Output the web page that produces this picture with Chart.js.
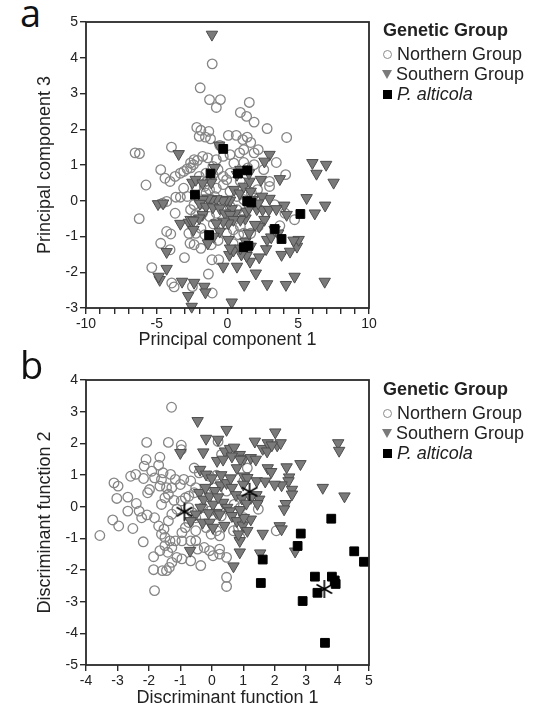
<!DOCTYPE html>
<html lang="en"><head><meta charset="UTF-8">
<title>Genetic Group – PCA and DFA</title>
<script src="https://cdn.jsdelivr.net/npm/chart.js@4.4.1/dist/chart.umd.min.js"></script>
<style>
*{box-sizing:border-box;margin:0;padding:0;}
body{width:545px;height:713px;background:#fff;font-family:Arial,'Liberation Sans',sans-serif;color:#222;position:relative;overflow:hidden;}
canvas{position:absolute;left:0;}
.tag{position:absolute;left:20px;font-size:38px;line-height:1;font-family:'Open Sans',Arial,sans-serif;color:#111;}
.legend{position:absolute;left:382px;font-size:18px;line-height:20px;color:#222;white-space:nowrap;}
.legend .ttl{font-weight:700;margin-bottom:4px;margin-left:1px;}
.legend .it{display:flex;align-items:center;}
.sym{display:inline-block;width:11px;margin-right:4px;}
.sym.circ{width:9px;height:9px;border:1.2px solid #8a8a8a;border-radius:50%;margin-left:1px;margin-right:5px;}
.sym.tri{width:0;height:0;border-left:5.5px solid transparent;border-right:5.5px solid transparent;border-top:9px solid #7a7a7a;}
.sym.sq{width:9px;height:9px;background:#000;margin-left:1px;margin-right:5px;}
</style></head>
<body>
<div class="tag" style="top:-7px;">a</div>
<canvas id="pcaChart" width="545" height="355" style="top:0;"></canvas>
<div class="legend" style="top:20px;">
  <div class="ttl">Genetic Group</div>
  <div class="it"><span class="sym circ"></span>Northern Group</div>
  <div class="it"><span class="sym tri"></span>Southern Group</div>
  <div class="it"><span class="sym sq"></span><i>P. alticola</i></div>
</div>

<div class="tag" style="top:345px;">b</div>
<canvas id="dfaChart" width="545" height="358" style="top:355px;"></canvas>
<div class="legend" style="top:379px;">
  <div class="ttl">Genetic Group</div>
  <div class="it"><span class="sym circ"></span>Northern Group</div>
  <div class="it"><span class="sym tri"></span>Southern Group</div>
  <div class="it"><span class="sym sq"></span><i>P. alticola</i></div>
</div>

<script>
// ── panel a: PCA scores (PC1, PC3) ──────────────────────────────
const pcaNorthern = [
  [-1.08,3.83],[-1.93,3.16],[-1.27,2.83],[-0.50,2.83],[-0.79,2.61],[1.54,2.75],[0.91,2.47],[1.35,2.36],
  [1.88,2.20],[2.80,2.02],[4.18,1.77],[-2.17,2.05],[-1.88,1.97],[-1.32,1.94],[-2.00,1.80],[-1.20,1.73],
  [-1.56,1.78],[0.06,1.83],[0.62,1.83],[1.39,1.78],[1.64,1.63],[1.08,1.71],[-3.96,1.50],[-6.53,1.34],
  [-6.22,1.32],[-5.76,0.44],[-6.24,-0.50],[-4.72,0.87],[-4.42,0.63],[-4.06,0.54],[-3.70,0.68],[-3.33,0.77],
  [-3.09,0.82],[-2.85,0.89],[-2.61,0.92],[-2.41,1.01],[-4.30,-0.02],[-4.59,-0.07],[-3.70,-0.35],[-3.65,0.10],
  [-3.33,0.10],[-2.85,0.12],[-4.30,-0.86],[-4.01,-0.93],[-4.72,-1.19],[-4.06,-1.37],[-3.04,-1.59],[-2.65,-1.19],
  [-5.35,-1.87],[-3.94,-2.30],[-3.77,-2.41],[-2.48,-2.40],[-1.35,-2.05],[-1.08,-2.58],[-1.10,-1.65],[-0.62,-1.65],
  [-1.15,-1.23],[-0.67,-1.11],[-0.06,-0.91],[-0.30,-0.67],[0.79,-0.95],[1.64,-0.91],[2.17,-0.72],[3.70,-0.70],
  [4.74,-0.53],[4.06,-0.35],[3.33,-0.11],[3.45,1.07],[4.11,0.73],[2.56,0.87],[2.97,0.54],[2.97,0.40],
  [2.12,0.31],[1.68,0.23],[1.35,0.20],[2.17,1.43],[1.88,1.34],[1.15,1.43],[0.86,1.34],[0.18,1.29],
  [-0.30,1.24],[-0.79,1.15],[-1.03,0.96],[-1.39,1.20],[-1.76,1.24],[-2.12,1.13],[-2.36,1.15],[-2.61,1.06],
  [1.15,1.07],[1.44,0.92],[1.88,1.01],[0.18,0.77],[-0.30,0.68],[-0.67,0.87],[-1.03,0.73],[-1.52,0.77],
  [-2.00,0.68],[-2.24,0.40],[-1.64,0.40],[-1.27,0.31],[-0.79,0.35],[-0.30,0.45],[-0.06,0.59],[0.18,0.26],
  [0.67,0.12],[1.15,0.03],[1.64,-0.07],[-0.91,0.12],[-1.52,0.21],[-2.00,0.03],[-2.36,-0.11],[-2.61,-0.25],
  [-2.24,-0.39],[-1.76,-0.35],[-1.27,-0.44],[-0.79,-0.35],[-0.30,-0.16],[0.18,-0.16],[0.67,-0.25],[1.15,-0.35],
  [-2.24,-0.91],[-1.88,-0.77],[-2.73,-0.91],[-2.36,-1.23],[-1.88,-1.33],[0.91,-0.72],[1.15,-0.91],[0.42,-0.81],
  [-0.55,1.55],[0.45,1.05],[-1.45,0.55],[0.90,0.55],[-3.10,0.35],[-1.00,-0.65],[0.40,-1.20],[-1.60,-0.95]
];
const pcaSouthern = [
  [-1.10,4.65],[-3.45,1.31],[-4.91,-0.09],[-4.55,-0.07],[-2.48,0.51],[-2.24,0.59],[-1.15,0.51],[-0.59,1.55],
  [2.97,1.29],[2.61,1.10],[3.70,0.61],[6.00,1.06],[6.97,1.01],[6.29,0.76],[7.50,0.51],[5.59,0.08],
  [6.90,-0.13],[6.17,-0.35],[4.01,-0.13],[4.18,-0.39],[2.97,0.06],[-3.33,-0.64],[-2.73,-0.61],[-2.41,-0.81],
  [-4.30,-1.43],[-4.30,-1.90],[-4.79,-2.21],[-4.87,-2.12],[-3.21,-2.26],[-2.36,-2.29],[-1.64,-2.40],[-1.56,-2.56],
  [-2.78,-2.66],[-2.53,-2.96],[0.30,-2.84],[1.18,-2.35],[2.80,-2.33],[4.13,-2.35],[4.74,-2.12],[6.87,-2.26],
  [2.00,-2.03],[-0.30,-1.84],[0.67,-1.84],[1.59,-1.70],[2.24,-1.58],[1.35,-1.54],[0.98,-1.50],[0.13,-1.51],
  [0.42,-1.39],[2.73,-1.35],[3.82,-1.51],[4.42,-1.42],[4.91,-1.28],[5.03,-1.09],[4.67,-1.11],[2.80,-1.09],
  [3.09,-1.02],[3.58,-0.91],[3.33,-0.81],[2.61,-0.53],[2.24,-0.72],[1.95,-0.67],[2.07,-0.23],[2.48,-0.25],
  [2.92,-0.25],[3.45,-0.23],[1.27,-0.49],[1.35,-0.30],[0.91,-0.53],[0.55,-0.35],[0.30,-0.23],[0.18,0.01],
  [-0.06,0.03],[-0.35,0.01],[-0.79,0.05],[-1.15,0.03],[-1.39,0.07],[-1.76,0.03],[-1.95,-0.08],[-1.52,-0.16],
  [-1.03,-0.18],[-0.55,-0.21],[-0.18,-0.35],[0.18,-0.39],[0.42,-0.53],[0.06,-0.63],[-0.30,-0.58],[-0.79,-0.63],
  [-0.55,-0.86],[-0.98,-1.00],[-1.39,-1.19],[0.06,-1.09],[0.18,-1.33],[0.91,-1.33],[1.27,-1.14],[1.52,-0.91],
  [1.64,-1.28],[-1.76,-0.39],[-2.00,-0.49],[-2.61,-0.53],[-2.41,-0.55],[-1.76,0.49],[-0.91,0.92],[0.67,0.73],
  [0.91,0.87],[0.47,0.31],[0.86,0.21],[1.15,0.40],[1.56,0.54],[1.52,0.77],[1.64,0.26],[2.36,0.59],
  [2.44,0.12],[2.17,-0.07],[1.76,0.03],[1.52,-0.21]
];
const pcaAlticola = [
  [-0.30,1.45],[-1.20,0.76],[0.74,0.76],[1.39,0.85],[-2.30,0.17],[1.39,-0.01],[1.68,-0.05],
  [5.15,-0.37],[3.33,-0.79],[3.82,-1.07],[-1.30,-0.96],[1.15,-1.30],[1.48,-1.26]
];

// ── panel b: discriminant function scores (DF1, DF2) ────────────
const dfaNorthern = [
  [-1.28,3.14],[-3.56,-0.91],[-2.07,2.03],[-1.38,2.03],[-0.97,1.94],[-0.97,1.80],[0.20,2.06],[0.31,1.65],
  [-2.09,1.49],[-2.15,1.28],[-1.65,1.56],[-1.91,1.12],[-1.69,1.31],[-1.55,1.07],[-1.31,1.02],[-2.17,0.89],
  [-1.82,0.91],[-1.60,0.86],[-1.65,0.65],[-1.44,0.60],[-3.11,0.75],[-2.98,0.65],[-2.58,0.96],[-2.42,1.02],
  [-3.02,0.26],[-2.67,0.30],[-3.15,-0.42],[-2.96,-0.61],[-2.67,-0.14],[-2.51,-0.69],[-2.31,-0.14],[-2.23,-0.35],
  [-2.06,-0.26],[-1.98,0.54],[-2.04,0.44],[-2.18,-1.11],[-1.85,-1.58],[-1.85,-1.99],[-1.82,-2.65],[-1.57,-2.02],
  [-1.44,-2.02],[-1.35,-1.92],[0.47,-2.23],[0.47,-2.52],[-0.35,-1.86],[-0.67,-1.71],[-0.95,-1.65],[-1.11,-1.60],
  [-1.27,-1.76],[-1.40,-1.44],[-1.27,-1.29],[-1.65,-1.39],[-1.49,-0.97],[-1.33,-1.08],[-1.16,-1.08],[-1.49,-1.23],
  [-1.82,-0.35],[-1.69,-0.61],[-1.60,-0.87],[-1.52,-0.71],[-1.38,-0.45],[-1.27,-0.24],[-1.11,-0.08],[-0.97,0.18],
  [-0.84,0.28],[-0.73,0.33],[-0.56,0.44],[-0.51,0.60],[-0.67,0.81],[-0.89,0.86],[-1.00,0.70],[-1.16,0.86],
  [-1.27,0.60],[-1.38,0.39],[-1.49,0.28],[-1.60,0.07],[-0.56,1.22],[-0.40,1.07],[-0.07,0.96],[0.15,0.99],
  [-0.73,-0.03],[-0.62,-0.19],[-0.51,-0.35],[-0.73,-0.50],[-0.84,-0.66],[-0.95,-0.82],[-0.95,-1.08],[-0.67,-1.08],
  [-0.51,-1.08],[-0.45,-1.34],[-0.24,-1.29],[-0.07,-1.39],[0.04,-1.55],[0.25,-1.34],[0.25,-1.50],[0.47,-1.60],
  [0.25,-0.92],[0.15,-0.76],[-0.02,-0.87],[-0.18,-0.66],[-0.51,-0.76],[-0.29,-0.03],[-0.07,-0.14],[0.09,0.28],
  [0.04,0.60],[0.47,0.49],[0.71,0.07],[0.91,-0.03],[1.02,-0.35],[0.85,-0.66],[0.69,-0.76],[1.13,1.22],
  [1.02,0.81],[1.48,-0.08],[2.05,-0.76],[0.89,-0.97],[-2.40,0.10],[-1.20,0.20],[-0.30,0.40],[0.30,-0.30]
];
const dfaSouthern = [
  [-0.45,2.71],[0.47,2.43],[-0.18,2.15],[0.20,2.12],[0.42,1.75],[0.58,1.83],[0.71,1.87],[0.89,1.64],
  [1.02,1.52],[1.24,1.54],[1.37,2.06],[1.62,1.83],[1.78,2.01],[2.02,2.35],[2.08,1.94],[2.19,2.01],
  [1.76,1.75],[1.91,1.94],[-1.00,1.70],[-0.27,1.72],[0.17,1.45],[0.36,1.49],[0.64,1.59],[0.91,1.49],
  [1.40,1.49],[2.82,1.35],[2.38,1.25],[1.78,1.22],[1.89,1.10],[0.80,1.22],[1.02,0.96],[1.13,0.91],
  [1.43,0.81],[2.46,0.93],[2.44,0.81],[-0.37,1.17],[-0.18,1.02],[4.02,2.01],[4.05,1.77],[3.53,0.60],
  [4.22,0.33],[2.22,0.68],[2.55,0.54],[2.55,0.39],[2.35,0.09],[2.30,-0.08],[2.16,-0.61],[2.22,-0.71],
  [0.29,0.68],[0.47,0.75],[0.64,0.60],[0.77,0.37],[0.96,0.26],[1.42,0.37],[1.51,0.23],[1.45,0.09],
  [1.24,0.28],[-0.40,0.44],[-0.26,0.23],[-0.07,0.33],[0.04,0.07],[0.15,-0.19],[0.25,-0.24],[0.36,0.13],
  [0.49,-0.03],[0.58,-0.14],[0.64,-0.29],[0.80,-0.45],[0.99,-0.59],[1.13,-0.76],[1.24,-0.40],[1.02,-0.35],
  [-0.35,-0.03],[-0.51,-0.24],[-0.67,-0.45],[-0.29,-0.50],[-0.07,-0.50],[0.04,-0.66],[1.62,-0.85],[0.89,-1.44],
  [-0.69,-1.39],[0.69,-1.88],[1.54,-1.47],[2.65,-1.41],[0.89,-1.08],[0.85,-0.87],[0.00,0.90],[0.30,1.00],
  [0.60,0.90],[-0.20,0.60],[0.10,0.50],[1.00,0.70],[1.70,0.80],[2.00,0.70],[0.90,-0.10],[1.10,0.10],
  [0.40,-0.60],[-0.10,-0.20],[0.20,0.30]
];
const dfaAlticola = [
  [3.80,-0.38],[2.83,-0.85],[2.73,-1.24],[1.62,-1.67],[1.56,-2.41],[4.53,-1.41],[4.84,-1.74],
  [3.28,-2.21],[3.82,-2.21],[3.91,-2.33],[3.94,-2.44],[3.36,-2.72],[2.89,-2.98],[3.60,-4.30]
];
const dfaCentroids = [[-0.87,-0.16],[1.20,0.47],[3.58,-2.60]];

const pcaXTicks = [-10, -5, 0, 5, 10];

// ── shared styling ──────────────────────────────────────────────
const AXIS = '#2a2a2a';
const pts = a => a.map(([x, y]) => ({ x, y }));

// six-armed asterisk used for the group centroids
const aster = (() => {
  const c = document.createElement('canvas'), r = 9;
  c.width = c.height = 2 * r + 2;
  const g = c.getContext('2d');
  g.strokeStyle = '#000'; g.lineWidth = 1.6; g.lineCap = 'butt';
  g.translate(r + 1, r + 1);
  for (let k = 0; k < 3; k++) {
    const t = Math.PI / 2 + k * Math.PI / 3;
    g.beginPath(); g.moveTo(Math.cos(t) * r, Math.sin(t) * r); g.lineTo(-Math.cos(t) * r, -Math.sin(t) * r); g.stroke();
  }
  return c;
})();

const frame = {
  id: 'frame',
  afterDatasetsDraw(c) {
    const { ctx, chartArea: a } = c;
    ctx.save();
    ctx.strokeStyle = AXIS; ctx.lineWidth = 1.8;
    ctx.strokeRect(a.left, a.top, a.right - a.left, a.bottom - a.top);
    ctx.restore();
  }
};

function sets(n, s, p, cent) {
  const out = [];
  if (cent) out.push({ label: 'Centroid', data: pts(cent), pointStyle: aster, pointRadius: 9, clip: false });
  out.push({ label: 'P. alticola', data: pts(p), pointStyle: 'rect', pointRadius: 6.2, backgroundColor: '#000', borderColor: '#000', pointBorderWidth: 1, clip: false });
  out.push({ label: 'Southern Group', data: pts(s), pointStyle: 'triangle', pointRotation: 180, pointRadius: 6.6, backgroundColor: '#7a7a7a', borderColor: '#4d4d4d', pointBorderWidth: 1, clip: false });
  out.push({ label: 'Northern Group', data: pts(n), pointStyle: 'circle', pointRadius: 4.8, backgroundColor: 'rgba(255,255,255,0)', borderColor: '#858585', pointBorderWidth: 1.3, clip: false });
  return out;
}

function axis(title, min, max, cb, fit) {
  return {
    type: 'linear', min, max,
    border: { display: false },
    grid: { drawOnChartArea: false, drawTicks: true, tickLength: 6, color: AXIS, lineWidth: 1.4 },
    ticks: { stepSize: 1, autoSkip: false, maxRotation: 0, color: '#222', padding: 2, font: { family: 'Arial', size: 14 }, callback: cb },
    title: { display: true, text: title, color: '#222', font: { family: 'Arial', size: 18 }, padding: { top: 2, bottom: 4 } },
    afterFit: fit
  };
}

function scatter(id, data, xs, ys, pad) {
  new Chart(document.getElementById(id), {
    type: 'scatter',
    data: { datasets: data },
    options: {
      responsive: false, animation: false, devicePixelRatio: 1,
      layout: { padding: pad },
      plugins: { legend: { display: false }, tooltip: { enabled: false } },
      scales: { x: xs, y: ys }
    },
    plugins: [frame]
  });
}

scatter('pcaChart', sets(pcaNorthern, pcaSouthern, pcaAlticola),
  axis('Principal component 1', -10, 10, v => pcaXTicks.includes(v) ? v : '', s => { s.height = 47; }),
  axis('Principal component 3', -3, 5, v => v, s => { s.width = 54; }),
  { top: 22, right: 176, left: 32, bottom: 0 });

scatter('dfaChart', sets(dfaNorthern, dfaSouthern, dfaAlticola, dfaCentroids),
  axis('Discriminant function 1', -4, 5, v => v, s => { s.height = 48; }),
  axis('Discriminant function 2', -5, 4, v => v, s => { s.width = 54; }),
  { top: 25, right: 176, left: 32, bottom: 0 });
</script>
</body></html>
